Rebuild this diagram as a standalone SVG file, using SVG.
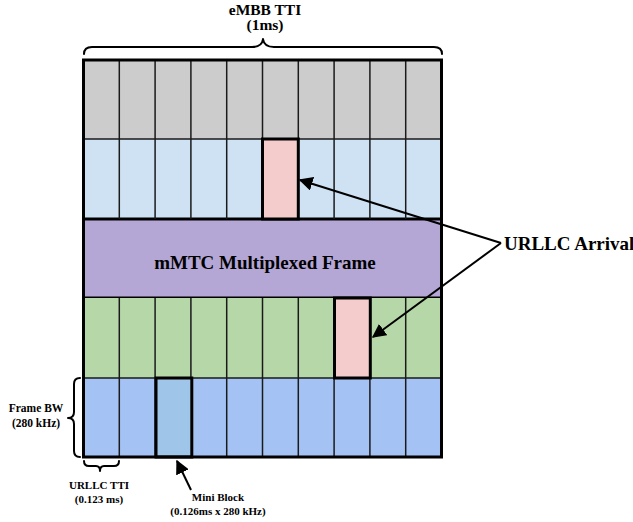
<svg xmlns="http://www.w3.org/2000/svg" width="633" height="522" viewBox="0 0 633 522">
  <style>
    .t { font-family: "Liberation Serif", "Times New Roman", serif; font-weight: bold; fill: #000; text-anchor: middle; }
    .ts { text-anchor: start; }
    .grid { stroke: #1a1a1a; stroke-width: 1.5; }
    .thick { stroke: #000; stroke-width: 3; fill: none; }
    .brace { stroke: #000; stroke-width: 2; fill: none; stroke-linecap: round; stroke-linejoin: round; }
    .arr { stroke: #000; stroke-width: 2; fill: none; }
  </style>
  <defs>
    <marker id="ahb" viewBox="0 0 10 10" refX="9" refY="5" markerWidth="7" markerHeight="7" orient="auto" markerUnits="strokeWidth">
      <path d="M0,0 L10,5 L0,10 z" fill="#000"/>
    </marker>
  </defs>

  <rect width="633" height="522" fill="#fff"/>

  <!-- row bands -->
  <g id="row-gray">
    <rect x="83.5" y="60" width="358" height="79" fill="#cccccc"/>
  </g>
  <g id="row-lightblue">
    <rect x="83.5" y="139" width="358" height="80" fill="#cfe2f3"/>
  </g>
  <g id="row-mmtc">
    <rect x="83.5" y="219" width="358" height="79" fill="#b4a7d6" stroke="#000" stroke-width="3"/>
    <text class="t" x="265" y="269" font-size="19">mMTC Multiplexed Frame</text>
  </g>
  <g id="row-green">
    <rect x="83.5" y="298" width="358" height="80" fill="#b6d7a8"/>
  </g>
  <g id="row-blue">
    <rect x="83.5" y="378" width="358" height="79" fill="#a4c2f4"/>
  </g>

  <!-- column dividers -->
  <g id="columns" class="grid">
    <line x1="119.3" y1="60" x2="119.3" y2="219"/>
    <line x1="155.1" y1="60" x2="155.1" y2="219"/>
    <line x1="190.9" y1="60" x2="190.9" y2="219"/>
    <line x1="226.7" y1="60" x2="226.7" y2="219"/>
    <line x1="262.5" y1="60" x2="262.5" y2="219"/>
    <line x1="298.3" y1="60" x2="298.3" y2="219"/>
    <line x1="334.1" y1="60" x2="334.1" y2="219"/>
    <line x1="369.9" y1="60" x2="369.9" y2="219"/>
    <line x1="405.7" y1="60" x2="405.7" y2="219"/>
    <line x1="119.3" y1="298" x2="119.3" y2="457"/>
    <line x1="155.1" y1="298" x2="155.1" y2="457"/>
    <line x1="190.9" y1="298" x2="190.9" y2="457"/>
    <line x1="226.7" y1="298" x2="226.7" y2="457"/>
    <line x1="262.5" y1="298" x2="262.5" y2="457"/>
    <line x1="298.3" y1="298" x2="298.3" y2="457"/>
    <line x1="334.1" y1="298" x2="334.1" y2="457"/>
    <line x1="369.9" y1="298" x2="369.9" y2="457"/>
    <line x1="405.7" y1="298" x2="405.7" y2="457"/>
    <line x1="83.5" y1="139" x2="441.5" y2="139"/>
    <line x1="83.5" y1="378" x2="441.5" y2="378"/>
  </g>

  <!-- URLLC blocks -->
  <g id="urllc-top">
    <rect x="262.5" y="139" width="35.8" height="80" fill="#f4cccc" stroke="#000" stroke-width="3"/>
  </g>
  <g id="urllc-bottom">
    <rect x="334.5" y="298" width="35.8" height="80" fill="#f4cccc" stroke="#000" stroke-width="3"/>
  </g>
  <g id="mini-block">
    <rect x="156" y="378" width="35.8" height="79" fill="#9fc5e8" stroke="#000" stroke-width="3"/>
  </g>

  <!-- outer frame -->
  <rect class="thick" x="83.5" y="60" width="358" height="397"/>

  <!-- braces and labels -->
  <g id="embb-tti">
    <path class="brace" d="M84,54 Q84,47 92,47 L252,47 Q262,47 263,39 Q264,47 274,47 L434,47 Q442,47 442,54"/>
    <text class="t" x="265" y="14.5" font-size="15.5">eMBB TTI</text>
    <text class="t" x="265" y="30" font-size="15.5">(1ms)</text>
  </g>
  <g id="frame-bw">
    <path class="brace" d="M80,378 Q74,378 74,384 L74,412 Q74,418 68,418 Q74,418 74,424 L74,451 Q74,457 80,457"/>
    <text class="t" x="36" y="412" font-size="11.5">Frame BW</text>
    <text class="t" x="36" y="427" font-size="11.5">(280 kHz)</text>
  </g>
  <g id="urllc-tti">
    <path class="brace" d="M84,461 Q84,466 89,466 L96,466 Q100,466 100,471 Q100,466 104,466 L114,466 Q119,466 119,461"/>
    <text class="t" x="99" y="489" font-size="11">URLLC TTI</text>
    <text class="t" x="99" y="503" font-size="11">(0.123 ms)</text>
  </g>
  <g id="mini-block-label">
    <text class="t" x="218" y="501" font-size="11">Mini Block</text>
    <text class="t" x="218" y="515" font-size="11">(0.126ms x 280 kHz)</text>
  </g>
  <g id="urllc-arrival">
    <text class="t ts" x="504" y="250" font-size="19">URLLC Arrival</text>
  </g>

  <!-- connectors -->
  <g id="connectors">
    <line class="arr" x1="501" y1="243" x2="300" y2="180" marker-end="url(#ahb)"/>
    <line class="arr" x1="501" y1="243" x2="373" y2="337" marker-end="url(#ahb)"/>
    <line class="arr" x1="191" y1="490" x2="177" y2="461" marker-end="url(#ahb)"/>
  </g>
</svg>
